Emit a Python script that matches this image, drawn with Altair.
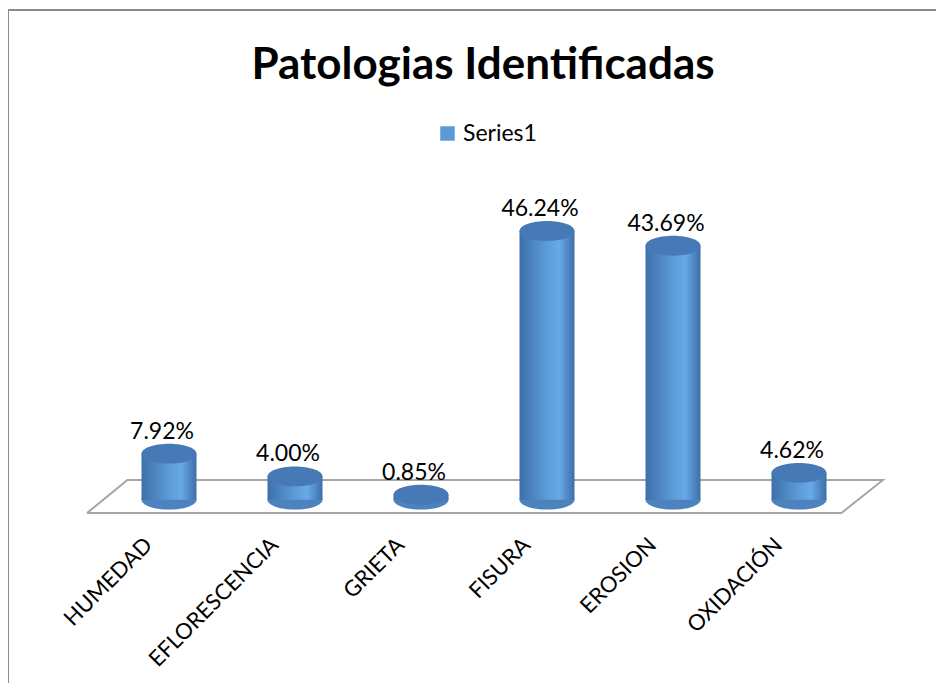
import altair as alt
import pandas as pd

title_text = ["Patologias Identificadas"]
categories = ["HUMEDAD", "EFLORESCENCIA", "GRIETA", "FISURA", "EROSION", "OXIDACIÓN"]
values = [7.92, 4.00, 0.85, 46.24, 43.69, 4.62]
value_labels = ["7.92%", "4.00%", "0.85%", "46.24%", "43.69%", "4.62%"]
series_name = ["Series1"]

# floor outline (x in category-index units, y in percent units)
floor_x = [-0.651, -0.33, 5.666, 5.336, -0.651]
floor_y = [-2.30, 3.38, 3.38, -2.30, -2.30]

W, H = 892, 340
FONT = "Lato"

df = pd.DataFrame({
    "i": list(range(len(categories))),
    "cat": categories,
    "v": values,
    "lbl": value_labels,
    "series": series_name * len(categories),
    "zero": [0.0] * len(categories),
})
floor = pd.DataFrame({"fx": floor_x, "fy": floor_y, "k": list(range(len(floor_x)))})
tdf = pd.DataFrame({"t": title_text})

xs = alt.Scale(domain=[-1, 6], nice=False, zero=False)
ys = alt.Scale(domain=[-3.5, 55], nice=False, zero=False)

label_expr = ""
for k, c in enumerate(categories):
    label_expr += f"datum.value == {k} ? '{c}' : "
label_expr += "''"

x_axis = alt.Axis(
    values=list(range(len(categories))), labelExpr=label_expr, title=None,
    domain=False, ticks=False, grid=False, labelAngle=315, labelAlign="right",
    labelBaseline="top", labelPadding=14, labelOffset=-28, labelFont=FONT,
    labelFontSize=22, labelColor="#000000", labelOverlap=False, labelFlush=False)
x_enc = alt.X("i:Q", scale=xs, axis=x_axis)
y_enc = alt.Y("v:Q", scale=ys, axis=None)

body = alt.LinearGradient(
    gradient="linear", x1=0, x2=1, y1=0, y2=0,
    stops=[alt.GradientStop(offset=0, color="#3D70AA"),
           alt.GradientStop(offset=0.5, color="#5C9CD8"),
           alt.GradientStop(offset=0.72, color="#67AAE7"),
           alt.GradientStop(offset=1, color="#3C6FA9")])

# ellipse made of cubic curves (rx 1, ry 0.36)
ellipse = ("M -1 0 C -1 -0.1988 -0.5523 -0.36 0 -0.36 C 0.5523 -0.36 1 -0.1988 1 0 "
           "C 1 0.1988 0.5523 0.36 0 0.36 C -0.5523 0.36 -1 0.1988 -1 0 Z")

frame_left = alt.Chart(df).mark_rule(color="#8C8C8C", strokeWidth=1.5).encode(
    x=alt.value(-30), y=alt.value(-170), y2=alt.value(H + 220))
frame_top = alt.Chart(df).mark_rule(color="#8C8C8C", strokeWidth=1.5).encode(
    x=alt.value(-30), x2=alt.value(W + 60), y=alt.value(-170))

title_layer = alt.Chart(tdf).mark_text(
    font=FONT, fontSize=44, fontWeight="bold", color="#000000", align="center",
    baseline="alphabetic").encode(x=alt.value(W / 2 - 1), y=alt.value(-101), text="t:N")

floor_layer = alt.Chart(floor).mark_line(color="#A6A6A6", strokeWidth=2).encode(
    x=alt.X("fx:Q", scale=xs, axis=x_axis),
    y=alt.Y("fy:Q", scale=ys, axis=None), order="k:Q")

bottom = alt.Chart(df).mark_point(shape=ellipse, size=3025, filled=True, color="#4D82BF",
                                  opacity=1, strokeWidth=0).encode(
    x=x_enc, y=alt.Y("zero:Q", scale=ys, axis=None))

bars = alt.Chart(df).mark_bar(fill=body, size=55, strokeWidth=0).encode(
    x=x_enc, y=y_enc, y2=alt.Y2("zero:Q"))

top = alt.Chart(df).mark_point(shape=ellipse, size=3025, filled=True, color="#4679B5",
                               opacity=1, strokeWidth=0).encode(x=x_enc, y=y_enc)

texts = alt.Chart(df).mark_text(baseline="bottom", dy=-10, dx=-7, font=FONT, fontSize=23,
                                color="#000000").encode(x=x_enc, y=y_enc, text="lbl:N")

legend_layer = alt.Chart(df).mark_square(size=0, opacity=0).encode(
    x=x_enc, y=y_enc,
    color=alt.Color("series:N", scale=alt.Scale(range=["#5B9BD5"]), legend=alt.Legend(
        title=None, orient="none", legendX=398, legendY=-58, symbolType="square",
        symbolSize=210, symbolOpacity=1, symbolStrokeWidth=0, labelFont=FONT,
        labelFontSize=23, labelColor="#000000", padding=0)))

chart = alt.layer(frame_left, frame_top, title_layer, floor_layer, bottom, bars, top,
                  texts, legend_layer).properties(
    width=W, height=H,
    autosize=alt.AutoSizeParams(type="none"),
    padding={"left": 30, "top": 172, "right": 6, "bottom": 163},
).configure_view(stroke=None)

chart.save("out.html", embed_options={"renderer": "svg", "actions": False})
